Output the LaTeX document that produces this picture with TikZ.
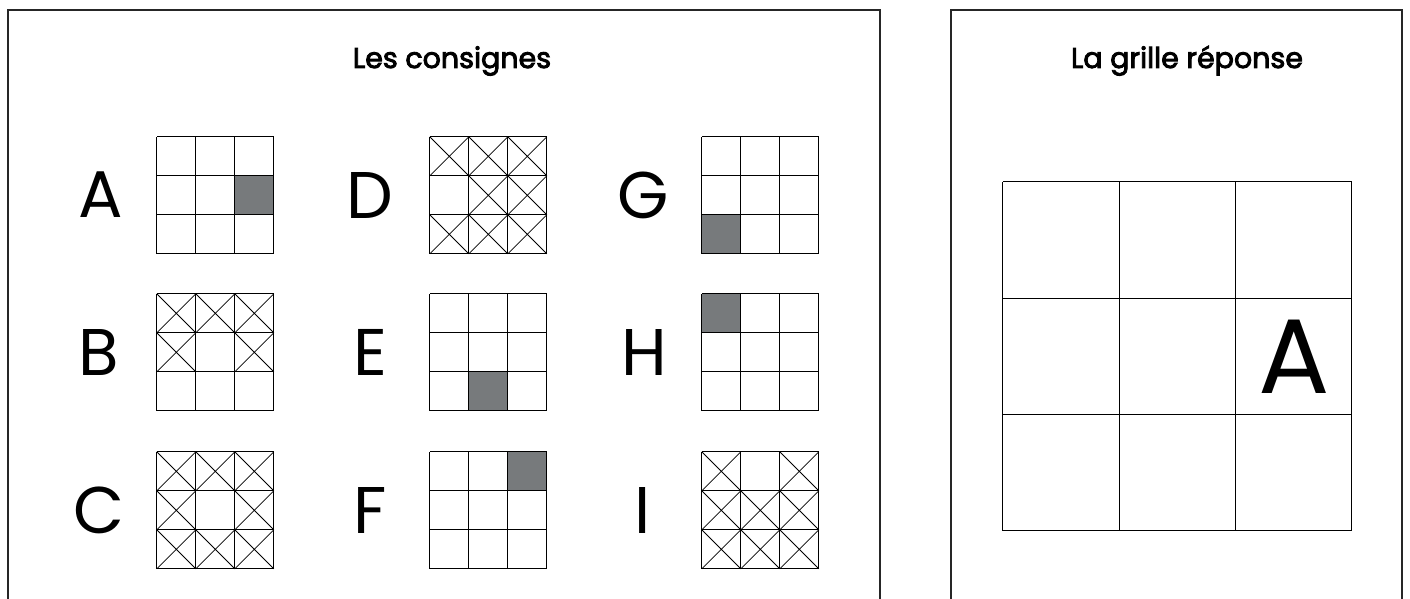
\documentclass[tikz,border=0pt]{standalone}
\usepackage{fontspec}
\setmainfont{Poppins}
\newfontfamily\titlefont[FakeBold=3]{Poppins}
\definecolor{shadegray}{RGB}{119,122,124}
\tikzset{
  frame/.style={draw=black!85, line width=1.3pt},
  gridline/.style={draw=black, line width=1pt},
  crossline/.style={draw=black, line width=0.8pt},
  gridbox/.style={draw=none, minimum size=117pt, inner sep=0pt},
  biglet/.style={font=\fontsize{66}{66}\selectfont, inner sep=0pt, anchor=center},
  titletext/.style={font=\fontsize{28.5}{28.5}\titlefont, inner sep=0pt, anchor=base},
}
\newcommand\shadecell[3]{%
  \begin{scope}[shift={(#1.north west)}]
    \fill[shadegray] ({(#3-1)*39},{(#2-1)*39}) rectangle +(39,39);
  \end{scope}}
\newcommand\crosscell[3]{%
  \begin{scope}[shift={(#1.north west)}]
    \draw[crossline] ({(#3-1)*39},{(#2-1)*39}) -- +(39,39)
                     ({#3*39},{(#2-1)*39}) -- +(-39,39);
  \end{scope}}
\newcommand\gridlines[1]{%
  \begin{scope}[shift={(#1.north west)}]
    \draw[gridline] (0,0) grid[step=39pt] (117,117);
  \end{scope}}
\begin{document}
\begin{tikzpicture}[x=1pt,y=-1pt]
\useasboundingbox (0,0) rectangle (1410,599);
% panels
\draw[frame] (8,599) -- (8,10) -- (880,10) -- (880,599);
\draw[frame] (951,599) -- (951,10) -- (1402,10) -- (1402,599);
\node[titletext] (t1) at (452,68) {Les consignes};
\node[titletext] (t2) at (1187,68) {La grille réponse};
% letters
\node[biglet] (lA) at (101,195) {A};
\node[biglet] (lB) at (99,352) {B};
\node[biglet] (lC) at (99,510) {C};
\node[biglet] (lD) at (370,195) {D};
\node[biglet] (lE) at (370,352) {E};
\node[biglet] (lF) at (370,510) {F};
\node[biglet] (lG) at (643,195) {G};
\node[biglet] (lH) at (644,352) {H};
\node[biglet] (lI) at (643,510) {I};
% grid boxes
\node[gridbox] (gA) at (215.5,195.5) {};
\node[gridbox] (gB) at (215.5,352.5) {};
\node[gridbox] (gC) at (215.5,510.5) {};
\node[gridbox] (gD) at (488.5,195.5) {};
\node[gridbox] (gE) at (488.5,352.5) {};
\node[gridbox] (gF) at (488.5,510.5) {};
\node[gridbox] (gG) at (760.5,195.5) {};
\node[gridbox] (gH) at (760.5,352.5) {};
\node[gridbox] (gI) at (760.5,510.5) {};
% shaded cells
\shadecell{gA}{2}{3}
\shadecell{gE}{3}{2}
\shadecell{gF}{1}{3}
\shadecell{gG}{3}{1}
\shadecell{gH}{1}{1}
% crossed cells
\foreach \r/\c in {1/1,1/2,1/3,2/1,2/3}{\crosscell{gB}{\r}{\c}}
\foreach \r/\c in {1/1,1/2,1/3,2/1,2/3,3/1,3/2,3/3}{\crosscell{gC}{\r}{\c}}
\foreach \r/\c in {1/1,1/2,1/3,2/2,2/3,3/1,3/2,3/3}{\crosscell{gD}{\r}{\c}}
\foreach \r/\c in {1/1,1/3,2/1,2/2,2/3,3/1,3/2,3/3}{\crosscell{gI}{\r}{\c}}
% grid lines
\foreach \g in {gA,gB,gC,gD,gE,gF,gG,gH,gI}{\gridlines{\g}}
% answer grid
\node[draw=none, minimum size=349pt, inner sep=0pt] (gR) at (1177.5,356.5) {};
\begin{scope}[shift={(gR.north west)}]
  \draw[gridline] (0,0) grid[step=116.3333pt] (349,349);
\end{scope}
\node[biglet, font=\fontsize{106}{106}\selectfont] (rA) at (1294,357) {A};
\end{tikzpicture}
\end{document}
